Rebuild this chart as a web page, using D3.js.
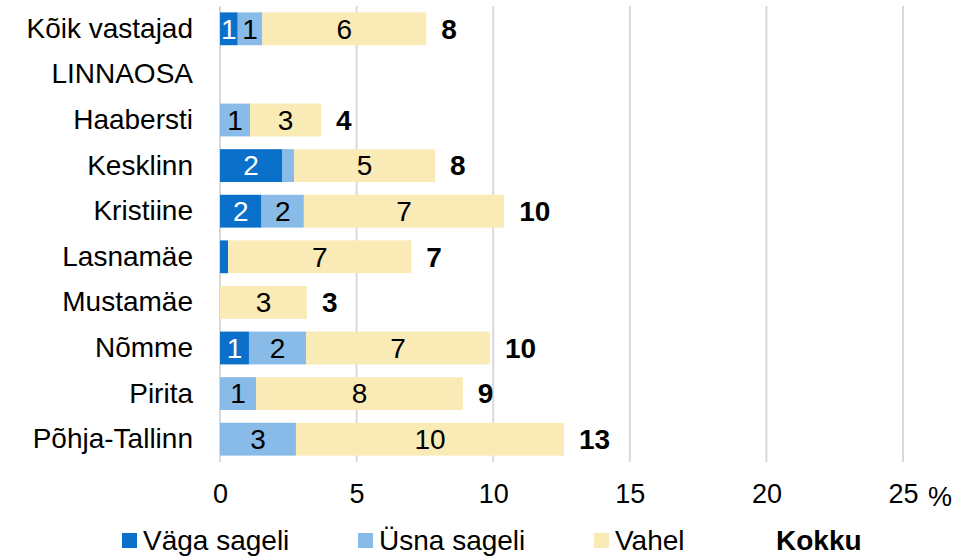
<!DOCTYPE html>
<html>
<head>
<meta charset="utf-8">
<script src="https://cdn.jsdelivr.net/npm/d3@7"></script>
<style>
    body { margin: 0; background: #fff; }
    text { font-family: "Liberation Sans", Arial, sans-serif; }
</style>
</head>
<body>
<svg id="svg"></svg>
<script>
// andmed
const categories = ["Kõik vastajad", "LINNAOSA", "Haabersti", "Kesklinn", "Kristiine", "Lasnamäe", "Mustamäe", "Nõmme", "Pirita", "Põhja-Tallinn"];
const vagaSageli = [0.65, null, 0, 2.27, 1.52, 0.3, 0, 1.06, 0, 0];
const usnaSageli = [0.9, null, 1.1, 0.44, 1.55, 0, 0, 2.09, 1.32, 2.78];
const vahel = [6.0, null, 2.6, 5.16, 7.33, 6.7, 3.18, 6.73, 7.57, 9.81];
const seriesNames = ["Väga sageli", "Üsna sageli", "Vahel"];
const xTicks = [0, 5, 10, 15, 20, 25];

const COLORS = ["#0A70CA", "#88BBE7", "#FAEBB6"];
const LABEL_COLORS = ["#fff", "#000", "#000"];
const GRID_COLOR = "#D9D9D9";
const FONT_SIZE = 28;

const svg = d3.select("#svg")
    .attr("width", 968)
    .attr("height", 556);

const x = d3.scaleLinear()
    .domain([0, 25])
    .range([220, 903]);

const y = d3.scaleBand()
    .domain(categories)
    .range([6, 462])
    .paddingInner(0.28)
    .paddingOuter(0.14);

// ruudustik
const oGrid = svg.append("g");
oGrid.selectAll("line")
    .data(xTicks)
    .join("line")
    .attr("x1", d => x(d))
    .attr("x2", d => x(d))
    .attr("y1", 6)
    .attr("y2", 462)
    .attr("stroke", GRID_COLOR)
    .attr("stroke-width", 2);

// telje sildid
const xAxis = svg.append("g")
    .attr("transform", "translate(0, 462)")
    .call(d3.axisBottom(x).tickValues(xTicks).tickSize(0).tickPadding(22));
xAxis.select(".domain").remove();
xAxis.selectAll("text")
    .attr("font-size", 27)
    .attr("font-family", "Liberation Sans, Arial, sans-serif")
    .attr("fill", "#000");
svg.append("text")
    .attr("x", x(25) + 25)
    .attr("y", 497)
    .attr("dy", "0.35em")
    .attr("font-size", 27)
    .text("%");

const yAxis = svg.append("g")
    .attr("transform", "translate(193, 0)")
    .call(d3.axisLeft(y).tickSize(0).tickPadding(0));
yAxis.select(".domain").remove();
yAxis.selectAll("text")
    .attr("font-size", FONT_SIZE)
    .attr("font-family", "Liberation Sans, Arial, sans-serif")
    .attr("fill", "#000");

// tulbad
const series = [vagaSageli, usnaSageli, vahel];
const oBars = svg.append("g");
categories.forEach((cat, i) => {
    if (vahel[i] === null) return;
    let start = 0;
    series.forEach((values, s) => {
        const v = values[i];
        if (v > 0) {
            oBars.append("rect")
                .attr("x", x(start))
                .attr("y", y(cat))
                .attr("width", x(start + v) - x(start))
                .attr("height", y.bandwidth())
                .attr("fill", COLORS[s]);
            if (Math.round(v) >= 1) {
                oBars.append("text")
                    .attr("x", (x(start) + x(start + v)) / 2)
                    .attr("y", y(cat) + y.bandwidth() / 2)
                    .attr("dy", "0.35em")
                    .attr("text-anchor", "middle")
                    .attr("font-size", FONT_SIZE)
                    .attr("fill", LABEL_COLORS[s])
                    .text(Math.round(v));
            }
        }
        start += v;
    });
    // kokku
    oBars.append("text")
        .attr("x", x(start) + 15)
        .attr("y", y(cat) + y.bandwidth() / 2)
        .attr("dy", "0.35em")
        .attr("font-size", FONT_SIZE)
        .attr("font-weight", "bold")
        .text(Math.round(start));
});

// legend
const legendX = [122, 358, 594];
const oLegend = svg.append("g");
seriesNames.forEach((name, s) => {
    oLegend.append("rect")
        .attr("x", legendX[s])
        .attr("y", 533)
        .attr("width", 15)
        .attr("height", 15)
        .attr("fill", COLORS[s]);
    oLegend.append("text")
        .attr("x", legendX[s] + 21)
        .attr("y", 540)
        .attr("dy", "0.35em")
        .attr("font-size", FONT_SIZE)
        .text(name);
});
oLegend.append("text")
    .attr("x", 776)
    .attr("y", 540)
    .attr("dy", "0.35em")
    .attr("font-size", FONT_SIZE)
    .attr("font-weight", "bold")
    .text("Kokku");
</script>
</body>
</html>
